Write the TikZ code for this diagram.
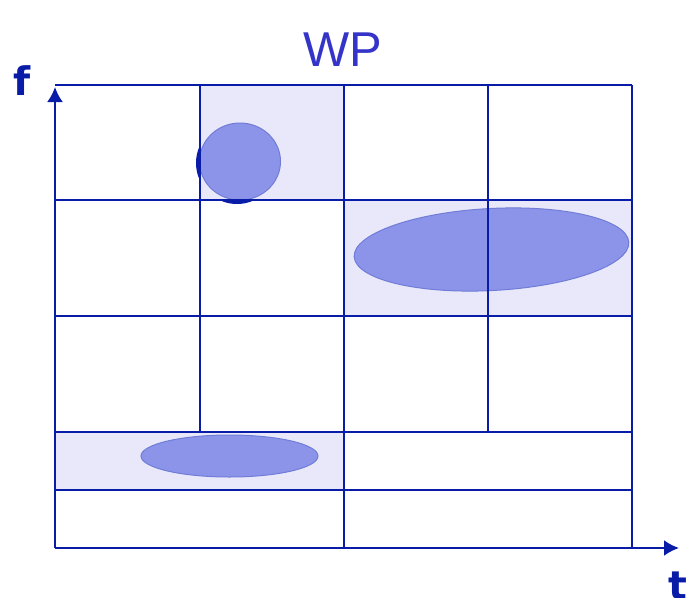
\documentclass[tikz,border=0pt]{standalone}
\usepackage{fontspec}
\setmainfont{Liberation Sans}
\newfontfamily\labelfont{DejaVu Sans}
\usetikzlibrary{arrows.meta,positioning}
\definecolor{gridblue}{RGB}{8,28,168}
\definecolor{cellfill}{RGB}{232,232,250}
\definecolor{blobfill}{RGB}{140,148,234}
\definecolor{blobedge}{RGB}{112,124,214}
\definecolor{titleblue}{RGB}{52,52,200}
\tikzset{>={Latex[length=11.25pt,width=12pt]}}

\begin{document}
\begin{tikzpicture}[x=0.75pt, y=-0.75pt,
	gridline/.style={gridblue, line width=1.7pt},
	cell/.style={fill=cellfill},
	blob/.style={fill=blobfill, draw=blobedge, line width=0.75pt},
	axislabel/.style={text=gridblue, font=\labelfont\fontsize{29.5}{29.5}\selectfont\bfseries, inner sep=0pt}]
		\useasboundingbox (0,0) rectangle (697,597);

		\fill[gridblue] (237,163) circle (41);

		\fill[cell] (200,85) rectangle (344,200);
		\fill[cell] (344,200) rectangle (632,316);
		\fill[cell] (55,432) rectangle (344,490);

		\draw[blob] (240,161.5) ellipse [x radius=40.5, y radius=38.5];
		\draw[blob, rotate around={3:(491.5,249.5)}] (491.5,249.5) ellipse [x radius=137.5, y radius=41];
		\draw[blob] (229.5,456) ellipse [x radius=88.5, y radius=21];

		\foreach \y in {85,200,316,432,490,548}
			\draw[gridline] (55,\y) -- (632,\y);
		\foreach \x in {200,488}
			\draw[gridline] (\x,85) -- (\x,432);
		\draw[gridline] (344,85) -- (344,548);
		\draw[gridline] (632,85) -- (632,548);

		\coordinate (o) at (55,548);
		\coordinate (fend) at (55,87);
		\coordinate (tend) at (679,548);
		\draw[gridline, ->] (o) -- (fend);
		\draw[gridline, ->] (o) -- (tend);

		\node[anchor=base, axislabel] (f) at (22,95) {f};
		\node[anchor=base, axislabel] (t) at (678,599) {t};
		\node[text=titleblue, font=\fontsize{36.7}{36.7}\selectfont, inner sep=0pt] (wp) at (343,50) {WP};
	\end{tikzpicture}
\end{document}
